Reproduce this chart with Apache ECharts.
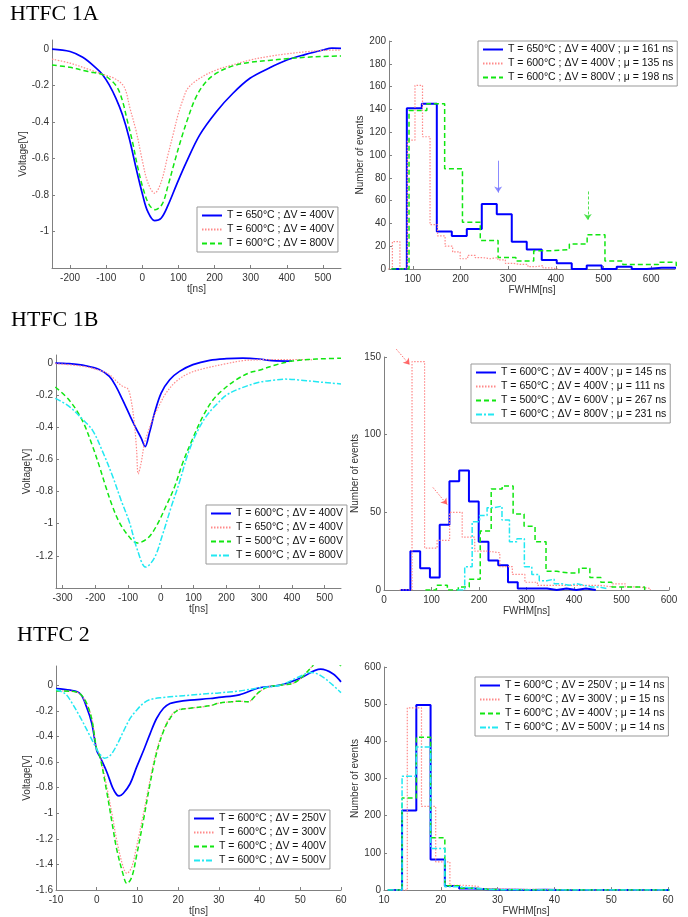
<!DOCTYPE html>
<html><head><meta charset="utf-8">
<script src="https://cdn.jsdelivr.net/npm/echarts@6/dist/echarts.min.js"></script>
<style>html,body{margin:0;padding:0;background:#fff}#c{width:688px;height:917px}</style>
</head><body><div id="c"></div>
<script>
// ---------------- DATA ----------------
// Panel titles
const titles = ['HTFC 1A', 'HTFC 1B', 'HTFC 2'];

// Panel 1 (HTFC 1A waveforms) [t(ns), V]
const p1_labels = ['T = 650°C ; ΔV = 400V', 'T = 600°C ; ΔV = 400V', 'T = 600°C ; ΔV = 800V'];
const p1_blue = [[-250,0.0],[-200,-0.013],[-165,-0.045],[-130,-0.1],[-110,-0.14],[-92,-0.195],[-73,-0.27],[-55,-0.36],[-36,-0.49],[-17,-0.655],[1,-0.8],[15,-0.89],[34,-0.94],[52,-0.927],[71,-0.857],[94,-0.747],[122,-0.62],[159,-0.47],[205,-0.343],[251,-0.242],[298,-0.16],[350,-0.105],[400,-0.06],[450,-0.03],[500,-0.005],[525,0.005],[550,0.004]];
const p1_red = [[-250,-0.055],[-200,-0.077],[-150,-0.11],[-110,-0.138],[-78,-0.16],[-54,-0.196],[-44,-0.24],[-36,-0.31],[-17,-0.45],[1,-0.62],[15,-0.73],[34,-0.79],[52,-0.73],[71,-0.58],[85,-0.47],[99,-0.36],[112,-0.28],[126,-0.215],[159,-0.16],[205,-0.114],[251,-0.086],[298,-0.06],[350,-0.04],[400,-0.026],[450,-0.015],[500,-0.007],[550,-0.005]];
const p1_green = [[-250,-0.087],[-200,-0.1],[-150,-0.123],[-110,-0.14],[-87,-0.17],[-68,-0.215],[-54,-0.29],[-43,-0.38],[-27,-0.51],[-13,-0.645],[3,-0.77],[20,-0.857],[36,-0.88],[55,-0.85],[71,-0.75],[89,-0.62],[108,-0.49],[126,-0.38],[147,-0.27],[173,-0.187],[205,-0.132],[251,-0.092],[300,-0.072],[350,-0.062],[400,-0.053],[450,-0.045],[500,-0.04],[550,-0.038]];
const p1_xticks = [-200,-100,0,100,200,300,400,500];
const p1_yticks = [-1,-0.8,-0.6,-0.4,-0.2,0];

// Panel 2 (HTFC 1A FWHM histograms): first bin edge, bin width, counts
const p2_labels = ['T = 650°C ; ΔV = 400V ; μ = 161 ns', 'T = 600°C ; ΔV = 400V ; μ = 135 ns', 'T = 600°C ; ΔV = 800V ; μ = 198 ns'];
const p2_blue_start = 55.95, p2_blue_width = 31.45;
const p2_blue = [0,141,145,33,29,35,57,48,24,17,8,5,0,3,0,2,0,1,1];
const p2_red_start = 41.3, p2_red_width = 15.8;
const p2_red = [0,24,0,113,161,116,39,29,20,15,9,12,10,9,10,8,5,4,4,2,3,1,0];
const p2_green_start = 54.63, p2_green_width = 37.37;
const p2_green = [0,139,145,88,41,25,10,7,16,17,22,30,7,4,4,6,3];
const p2_arrow_blue = [[279,95],[279,67]];
const p2_arrow_green = [[467,68],[467,43]];
const p2_xticks = [100,200,300,400,500,600];
const p2_yticks = [0,20,40,60,80,100,120,140,160,180,200];

// Panel 3 (HTFC 1B waveforms)
const p3_labels = ['T = 600°C ; ΔV = 400V', 'T = 650°C ; ΔV = 400V', 'T = 500°C ; ΔV = 600V', 'T = 600°C ; ΔV = 800V'];
const p3_blue = [[-322,0],[-280,-0.004],[-229,-0.017],[-188,-0.04],[-157,-0.083],[-137,-0.145],[-117,-0.228],[-96,-0.32],[-76,-0.405],[-60,-0.467],[-48,-0.52],[-35,-0.436],[-19,-0.31],[1,-0.187],[27,-0.104],[57,-0.052],[98,-0.01],[149,0.017],[200,0.027],[250,0.03],[300,0.025],[340,0.015],[400,0.012]];
const p3_red = [[-322,-0.004],[-239,-0.02],[-188,-0.045],[-157,-0.072],[-137,-0.11],[-117,-0.145],[-101,-0.16],[-91,-0.228],[-81,-0.37],[-74,-0.54],[-69,-0.69],[-60,-0.62],[-50,-0.5],[-40,-0.436],[-25,-0.35],[-4,-0.26],[16,-0.187],[47,-0.114],[88,-0.062],[139,-0.031],[200,-0.004],[251,0.015],[300,0.02],[350,0.022],[400,0.022],[465,0.02]];
const p3_green = [[-322,-0.15],[-280,-0.23],[-239,-0.36],[-208,-0.52],[-188,-0.64],[-168,-0.77],[-148,-0.89],[-127,-0.99],[-101,-1.07],[-72,-1.12],[-40,-1.09],[-14,-1.016],[16,-0.89],[42,-0.77],[67,-0.62],[98,-0.467],[129,-0.33],[159,-0.23],[190,-0.166],[230,-0.104],[271,-0.06],[300,-0.045],[350,-0.012],[400,0.012],[450,0.022],[500,0.027],[550,0.03]];
const p3_cyan = [[-322,-0.22],[-280,-0.27],[-239,-0.35],[-208,-0.42],[-178,-0.55],[-148,-0.7],[-122,-0.85],[-96,-0.99],[-72,-1.16],[-46,-1.27],[-19,-1.21],[5,-1.07],[31,-0.9],[57,-0.74],[82,-0.57],[108,-0.44],[139,-0.33],[169,-0.26],[200,-0.2],[240,-0.16],[300,-0.12],[350,-0.105],[380,-0.1],[420,-0.105],[470,-0.115],[520,-0.125],[550,-0.13]];
const p3_xticks = [-300,-200,-100,0,100,200,300,400,500];
const p3_yticks = [-1.2,-1,-0.8,-0.6,-0.4,-0.2,0];

// Panel 4 (HTFC 1B FWHM histograms)
const p4_labels = ['T = 600°C ; ΔV = 400V ; μ = 145 ns', 'T = 650°C ; ΔV = 400V ; μ = 111 ns', 'T = 500°C ; ΔV = 600V ; μ = 267 ns', 'T = 600°C ; ΔV = 800V ; μ = 231 ns'];
const p4_blue_start = 35.06, p4_blue_width = 20.54;
const p4_blue = [0,25,14,8,42,70,77,57,31,19,16,5,1,1,1,0,1,0,1,0];
const p4_red_start = 32.6, p4_red_width = 26.4;
const p4_red = [0,147,27,32,50,34,25,24,15,10,5,3,3,3,3,3,2,4,2,1];
const p4_green_start = 87.2, p4_green_width = 23.08;
const p4_green = [0,3,0,2,7,38,65,67,49,41,31,12,11,11,14,8,5,2,2,2];
const p4_cyan_start = 154.2, p4_cyan_width = 15.7;
const p4_cyan = [0,15,44,48,53,54,45,31,33,15,10,6,7,4,3,4,3,2,2,1];
const p4_arrow1 = [[26,155],[54,145]];
const p4_arrow2 = [[103,66],[133,55]];
const p4_xticks = [0,100,200,300,400,500,600];
const p4_yticks = [0,50,100,150];

// Panel 5 (HTFC 2 waveforms)
const p5_labels = ['T = 600°C ; ΔV = 250V', 'T = 600°C ; ΔV = 300V', 'T = 600°C ; ΔV = 400V', 'T = 600°C ; ΔV = 500V'];
const p5_blue = [[-10,-0.026],[-6.5,-0.039],[-4.1,-0.065],[-2.5,-0.17],[-1.2,-0.3],[0,-0.51],[0.8,-0.56],[2.5,-0.68],[3.9,-0.8],[4.9,-0.855],[5.5,-0.865],[6.5,-0.846],[8.2,-0.77],[9.8,-0.64],[11.5,-0.51],[13.1,-0.38],[14.7,-0.26],[16.4,-0.18],[18,-0.143],[19.7,-0.13],[22.9,-0.117],[27.9,-0.104],[30,-0.095],[35,-0.075],[40,-0.02],[45,0.0],[50,0.055],[55,0.125],[58,0.09],[60,0.026]];
const p5_red = [[-10,-0.045],[-6.5,-0.047],[-4.1,-0.068],[-2.5,-0.15],[-1.2,-0.26],[0,-0.5],[0.8,-0.55],[2.45,-0.79],[3.9,-1.03],[4.9,-1.21],[6.5,-1.42],[7.4,-1.47],[8.6,-1.42],[9.8,-1.26],[11.5,-1.0],[13.1,-0.74],[14.7,-0.51],[16.4,-0.35],[18,-0.25],[19.7,-0.195],[22.9,-0.18],[27.9,-0.16],[30,-0.14],[33,-0.13],[35,-0.125],[37,-0.13],[40,-0.05],[42,-0.015],[45,0.0],[48,0.013],[50,0.05],[53,0.15],[55,0.22]];
const p5_green = [[-10,-0.045],[-6.5,-0.047],[-4.1,-0.068],[-2.5,-0.14],[-1.2,-0.27],[0,-0.5],[0.8,-0.56],[2.45,-0.83],[3.9,-1.1],[4.9,-1.28],[6.5,-1.48],[7.4,-1.55],[8.6,-1.5],[9.8,-1.33],[11.5,-1.05],[13.1,-0.77],[14.7,-0.53],[16.4,-0.36],[18,-0.26],[19.7,-0.2],[22.9,-0.18],[27.9,-0.16],[30,-0.14],[33,-0.13],[35,-0.125],[37,-0.13],[40,-0.05],[42,-0.015],[45,0.0],[48,0.013],[50,0.05],[53,0.15],[55,0.22],[58,0.2],[60,0.15]];
const p5_cyan = [[-10,-0.034],[-7.8,-0.065],[-6.5,-0.117],[-4.1,-0.247],[-1.6,-0.4],[0,-0.5],[0.8,-0.54],[1.9,-0.57],[3.3,-0.55],[4.9,-0.47],[6.5,-0.365],[8.2,-0.26],[9.8,-0.195],[11.5,-0.14],[13.1,-0.112],[16.4,-0.096],[19.7,-0.086],[22.9,-0.078],[27.9,-0.065],[30,-0.06],[35,-0.045],[40,-0.02],[45,0.0],[50,0.07],[52.5,0.1],[55,0.075],[58,0.0],[60,-0.058]];
const p5_xticks = [-10,0,10,20,30,40,50,60];
const p5_yticks = [-1.6,-1.4,-1.2,-1,-0.8,-0.6,-0.4,-0.2,0];

// Panel 6 (HTFC 2 FWHM histograms)
const p6_labels = ['T = 600°C ; ΔV = 250V ; μ = 14 ns', 'T = 600°C ; ΔV = 300V ; μ = 15 ns', 'T = 600°C ; ΔV = 400V ; μ = 14 ns', 'T = 600°C ; ΔV = 500V ; μ = 14 ns'];
const p6_blue_start = 10.67, p6_blue_width = 2.51;
const p6_blue = [0,214,498,82,11,4,2,1,1,0,1,0,0,0,0,0,0,0,0,0];
const p6_red_start = 11.6, p6_red_width = 2.5;
const p6_red = [0,490,225,76,13,10,4,3,2,2,1,1,1,0,0,0,0,0,0];
const p6_green_start = 10.67, p6_green_width = 2.51;
const p6_green = [0,248,411,141,12,5,2,1,1,0,0,0,0,0,0,0,0,0,0,0];
const p6_cyan_start = 10.67, p6_cyan_width = 2.51;
const p6_cyan = [0,306,385,112,9,5,2,1,1,0,0,0,0,0,0,0,0,0,0,0];
const p6_xticks = [10,20,30,40,50,60];
const p6_yticks = [0,100,200,300,400,500,600];

// ---------------- CHART ----------------
const FONT = 'Liberation Sans';
const ST = {
  b: {color:'#0000ff', width:1.7, type:'solid'},
  bh: {color:'#0000ff', width:2, type:'solid'},
  r: {color:'#ff8a8a', width:1.2, type:[1.5,1.5]},
  g: {color:'#11e611', width:1.5, type:[5,3]},
  c: {color:'#22e8f2', width:1.5, type:[6,2,2,2]}
};
const labelMap = {};
const series = [];
const legends = [];

function addLine(gi, key, label, data, st, extra) {
  labelMap[key] = label;
  series.push(Object.assign({
    type:'line', name:key, xAxisIndex:gi, yAxisIndex:gi, data:data,
    symbol:'none', showSymbol:false, smooth:0.35, animation:false,
    lineStyle:{color:st.color, width:st.width, type:st.type},
    itemStyle:{color:st.color}, emphasis:{disabled:true}
  }, extra || {}));
}
function steps(start, width, counts) {
  const pts = counts.map((c, i) => [start + i * width, c]);
  pts.push([start + counts.length * width, 0]);
  return pts;
}
function addHist(gi, key, label, start, width, counts, st) {
  addLine(gi, key, label, steps(start, width, counts), st, {smooth:false, step:'end'});
}
function addArrow(gi, coords, color, type) {
  series.push({
    type:'lines', coordinateSystem:'cartesian2d', xAxisIndex:gi, yAxisIndex:gi,
    clip:false, silent:true, animation:false, symbol:['none','arrow'], symbolSize:6,
    lineStyle:{color:color, width:1, type:type, opacity:0.85}, data:[{coords:coords}]
  });
}
function addLegend(keys, left, top) {
  legends.push({
    data:keys, left:left, top:top, orient:'vertical', itemWidth:20, itemHeight:10, itemGap:3,
    padding:[3,4,3,4], backgroundColor:'#fff', borderColor:'#999', borderWidth:1,
    selectedMode:false, textStyle:{fontFamily:FONT, fontSize:10.5, color:'#111'},
    formatter:(n) => labelMap[n], itemStyle:{opacity:0}
  });
}
function xAx(gi, min, max, ticks, name, gap) {
  return {gridIndex:gi, type:'value', min:min, max:max, name:name, nameLocation:'middle', nameGap:gap,
    nameTextStyle:{fontFamily:FONT, fontSize:10, color:'#333'},
    axisLine:{onZero:false, lineStyle:{color:'#808080'}},
    axisTick:{inside:true, length:3, customValues:ticks, lineStyle:{color:'#808080'}},
    axisLabel:{customValues:ticks, fontFamily:FONT, fontSize:10, color:'#333', margin:5},
    splitLine:{show:false}};
}
function yAx(gi, min, max, ticks, name, gap) {
  return {gridIndex:gi, type:'value', min:min, max:max, name:name, nameLocation:'middle', nameGap:gap,
    nameTextStyle:{fontFamily:FONT, fontSize:10, color:'#333'},
    axisLine:{onZero:false, lineStyle:{color:'#808080'}},
    axisTick:{inside:true, length:3, customValues:ticks, lineStyle:{color:'#808080'}},
    axisLabel:{customValues:ticks, fontFamily:FONT, fontSize:10, color:'#333', margin:3},
    splitLine:{show:false}};
}

// Panel 1
addLine(0,'a1',p1_labels[0],p1_blue,ST.b);
addLine(0,'a2',p1_labels[1],p1_red,ST.r);
addLine(0,'a3',p1_labels[2],p1_green,ST.g);
addLegend(['a1','a2','a3'],197,207);
// Panel 2
addHist(1,'b1',p2_labels[0],p2_blue_start,p2_blue_width,p2_blue,ST.bh);
addHist(1,'b2',p2_labels[1],p2_red_start,p2_red_width,p2_red,ST.r);
addHist(1,'b3',p2_labels[2],p2_green_start,p2_green_width,p2_green,ST.g);
addArrow(1,p2_arrow_blue,'#7777ff','solid');
addArrow(1,p2_arrow_green,'#33dd33',[3,2]);
addLegend(['b1','b2','b3'],478,41);
// Panel 3
addLine(2,'c1',p3_labels[0],p3_blue,ST.b);
addLine(2,'c2',p3_labels[1],p3_red,ST.r);
addLine(2,'c3',p3_labels[2],p3_green,ST.g);
addLine(2,'c4',p3_labels[3],p3_cyan,ST.c);
addLegend(['c1','c2','c3','c4'],206,505);
// Panel 4
addHist(3,'d1',p4_labels[0],p4_blue_start,p4_blue_width,p4_blue,ST.bh);
addHist(3,'d2',p4_labels[1],p4_red_start,p4_red_width,p4_red,ST.r);
addHist(3,'d3',p4_labels[2],p4_green_start,p4_green_width,p4_green,ST.g);
addHist(3,'d4',p4_labels[3],p4_cyan_start,p4_cyan_width,p4_cyan,ST.c);
addArrow(3,p4_arrow1,'#ff5050',[1.5,1.5]);
addArrow(3,p4_arrow2,'#ff5050',[1.5,1.5]);
addLegend(['d1','d2','d3','d4'],471,364);
// Panel 5
addLine(4,'e1',p5_labels[0],p5_blue,ST.b);
addLine(4,'e2',p5_labels[1],p5_red,ST.r);
addLine(4,'e3',p5_labels[2],p5_green,ST.g);
addLine(4,'e4',p5_labels[3],p5_cyan,ST.c);
addLegend(['e1','e2','e3','e4'],189,810);
// Panel 6
addHist(5,'f1',p6_labels[0],p6_blue_start,p6_blue_width,p6_blue,ST.bh);
addHist(5,'f2',p6_labels[1],p6_red_start,p6_red_width,p6_red,ST.r);
addHist(5,'f3',p6_labels[2],p6_green_start,p6_green_width,p6_green,ST.g);
addHist(5,'f4',p6_labels[3],p6_cyan_start,p6_cyan_width,p6_cyan,ST.c);
addLegend(['f1','f2','f3','f4'],475,677);

const titleStyle = {fontFamily:'Liberation Serif', fontSize:22, fontWeight:'normal', color:'#000'};
const option = {
  backgroundColor:'#fff',
  animation:false,
  title:[
    {text:titles[0], left:10, top:3, padding:0, textStyle:titleStyle},
    {text:titles[1], left:11, top:309, padding:0, textStyle:titleStyle},
    {text:titles[2], left:17, top:624, padding:0, textStyle:titleStyle}
  ],
  grid:[
    {left:52, top:40, width:289, height:228},
    {left:389, top:41, width:286, height:228},
    {left:56, top:355, width:285, height:233},
    {left:384, top:357, width:285, height:233},
    {left:56, top:666, width:285, height:224},
    {left:384, top:667, width:284, height:224}
  ],
  xAxis:[
    xAx(0,-250,550,p1_xticks,'t[ns]',14),
    xAx(1,50,650,p2_xticks,'FWHM[ns]',14),
    xAx(2,-320,550,p3_xticks,'t[ns]',14),
    xAx(3,0,600,p4_xticks,'FWHM[ns]',13),
    xAx(4,-10,60,p5_xticks,'t[ns]',15),
    xAx(5,10,60,p6_xticks,'FWHM[ns]',14)
  ],
  yAxis:[
    yAx(0,-1.2,0.05,p1_yticks,'Voltage[V]',22),
    yAx(1,0,200,p2_yticks,'Number of events',22),
    yAx(2,-1.4,0.05,p3_yticks,'Voltage[V]',21),
    yAx(3,0,150,p4_yticks,'Number of events',22),
    yAx(4,-1.6,0.15,p5_yticks,'Voltage[V]',22),
    yAx(5,0,600,p6_yticks,'Number of events',22)
  ],
  legend:legends,
  series:series
};
const chart = echarts.init(document.getElementById('c'), null, {renderer:'canvas', width:688, height:917});
chart.setOption(option);
</script></body></html>
